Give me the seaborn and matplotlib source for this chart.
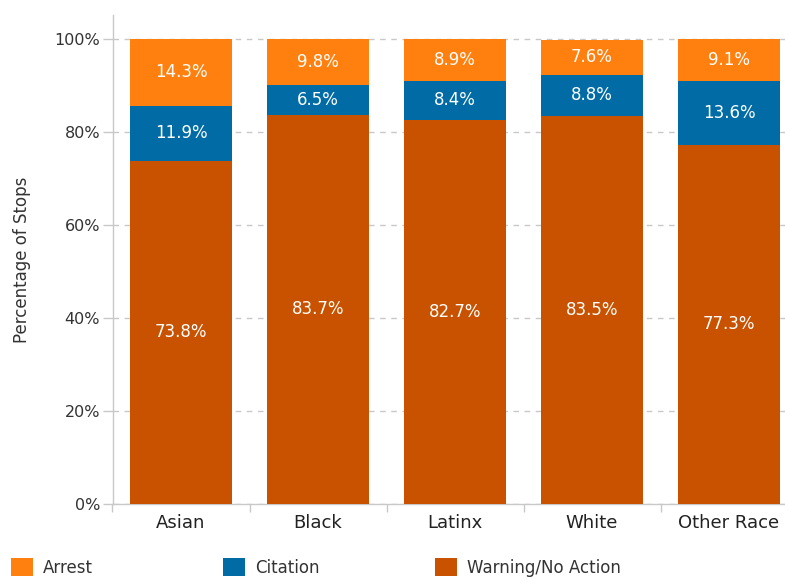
import matplotlib
matplotlib.use("Agg")
import matplotlib.pyplot as plt
from matplotlib.patches import Patch
from matplotlib.ticker import FixedLocator, PercentFormatter
import numpy as np
import pandas as pd
import seaborn as sns

# Stop outcomes by race (percent of stops)
races = ["Asian", "Black", "Latinx", "White", "Other Race"]
warning = [73.8, 83.7, 82.7, 83.5, 77.3]
citation = [11.9, 6.5, 8.4, 8.8, 13.6]
arrest = [14.3, 9.8, 8.9, 7.6, 9.1]

outcomes = ["Arrest", "Citation", "Warning/No Action"]
colors = {"Arrest": "#FF800E", "Citation": "#006BA4", "Warning/No Action": "#C85200"}

df = pd.DataFrame({"race": races, "warning": warning,
                   "citation": citation, "arrest": arrest})
df["cum_citation"] = df["warning"] + df["citation"]
df["cum_arrest"] = df["cum_citation"] + df["arrest"]

sns.set_theme(style="white")
plt.rcParams["font.family"] = ["DejaVu Sans"]

fig = plt.figure(figsize=(7.85, 5.79), dpi=100)
ax = fig.add_axes([112.5 / 785, 1 - 504 / 579, 685 / 785, 489 / 579])

bar_w = 0.745
# Stacked bars drawn as overlapping cumulative layers, tallest first
for col, name in [("cum_arrest", "Arrest"), ("cum_citation", "Citation"),
                  ("warning", "Warning/No Action")]:
    sns.barplot(data=df, x="race", y=col, order=races, color=colors[name],
                saturation=1, width=bar_w, ax=ax, zorder=3,
                linewidth=0, edgecolor="none")

# Segment labels centred in each segment
for i, row in df.iterrows():
    segs = [(0, row["warning"]),
            (row["warning"], row["citation"]),
            (row["cum_citation"], row["arrest"])]
    for base, val in segs:
        ax.text(i, base + val / 2, f"{val:.1f}%", ha="center", va="center",
                color="white", fontsize=12, zorder=4)

ax.set_xlim(-0.5, 4.5)
ax.set_ylim(0, 105.2)
ax.set_yticks(np.arange(0, 101, 20))
ax.yaxis.set_major_formatter(PercentFormatter(decimals=0))
ax.set_xlabel("")
ax.set_ylabel("Percentage of Stops", fontsize=12, color="#333333")
ax.yaxis.set_label_coords(-0.119, 0.5)

grid_c = "#c8c8c8"
ax.yaxis.grid(True, linestyle=(0, (4, 4)), color=grid_c, linewidth=1, zorder=0)
ax.xaxis.grid(False)
ax.set_axisbelow(True)

for s in ["top", "right"]:
    ax.spines[s].set_visible(False)
for s in ["left", "bottom"]:
    ax.spines[s].set_color(grid_c)
    ax.spines[s].set_linewidth(1)

ax.tick_params(axis="y", which="major", length=7, width=1, color=grid_c,
               pad=2, labelsize=11.5, labelcolor="#333333", left=True)
ax.tick_params(axis="x", which="major", length=0, pad=7,
               labelsize=13, labelcolor="#222222")
ax.xaxis.set_minor_locator(FixedLocator(np.arange(-0.5, 4.0, 1.0)))
ax.tick_params(axis="x", which="minor", length=6, width=1, color=grid_c,
               bottom=True)

# Legend entries spaced evenly along the bottom edge
legend_x = [11, 223, 435]
for name, x in zip(outcomes, legend_x):
    fig.legend(handles=[Patch(facecolor=colors[name], edgecolor="none")],
               labels=[name], loc="center left",
               bbox_to_anchor=(x / 785, 1 - 567.5 / 579),
               frameon=False, borderpad=0, borderaxespad=0,
               handlelength=1.32, handleheight=1.2, handletextpad=0.6,
               fontsize=12, labelcolor="#333333")

fig.savefig("out.png", dpi=100)
